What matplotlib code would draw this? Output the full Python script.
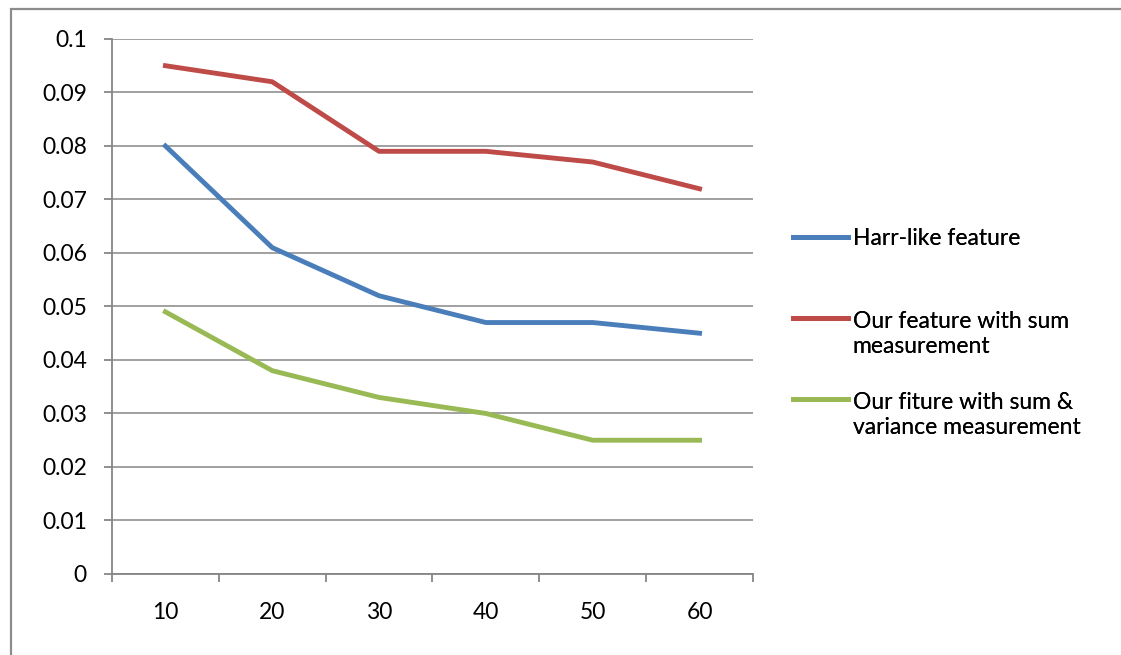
import numpy as np
import matplotlib.pyplot as plt
from matplotlib.patches import Rectangle
from matplotlib.legend_handler import HandlerLine2D

plt.rcParams['font.family'] = ['Lato', 'DejaVu Sans']

categories = ['10', '20', '30', '40', '50', '60']
harr = [0.080, 0.061, 0.052, 0.047, 0.047, 0.045]
sum_feat = [0.095, 0.092, 0.079, 0.079, 0.077, 0.072]
sum_var = [0.049, 0.038, 0.033, 0.030, 0.025, 0.025]
labels = ['Harr-like feature',
          'Our feature with sum\nmeasurement',
          'Our fiture with sum &\nvariance measurement']
colors = ['#4A7EBB', '#BE4B48', '#98B954']
yticks = np.arange(0, 0.11, 0.01)
ytick_labels = ['0', '0.01', '0.02', '0.03', '0.04', '0.05',
                '0.06', '0.07', '0.08', '0.09', '0.1']

grid_col = '#868686'
fs = 16.5


class FirstLineHandler(HandlerLine2D):
    # puts the legend line next to the first text line, like Excel does
    def create_artists(self, legend, orig_handle, xdescent, ydescent,
                       width, height, fontsize, trans):
        return super().create_artists(legend, orig_handle, xdescent,
                                      ydescent - 1.4 * fontsize, width, height,
                                      fontsize, trans)


fig = plt.figure(figsize=(11.21, 6.55), dpi=100)
ax = fig.add_axes([0.0999, 0.1237, 0.5718, 0.8168])

x = np.arange(len(categories))
lines = []
for vals, col, lab in zip([harr, sum_feat, sum_var], colors, labels):
    ln, = ax.plot(x, vals, color=col, lw=3.5, label=lab, solid_joinstyle='round')
    lines.append(ln)

ax.set_xlim(-0.5, len(categories) - 0.5)
ax.set_ylim(0, 0.1)
ax.set_yticks(yticks)
ax.set_yticklabels(ytick_labels)
ax.set_xticks(x)
ax.set_xticklabels(categories)
ax.set_xticks(np.arange(-0.5, len(categories), 1), minor=True)

ax.yaxis.grid(True, color=grid_col, lw=1.1)
ax.set_axisbelow(True)
for s in ['top', 'right']:
    ax.spines[s].set_visible(False)
for s in ['left', 'bottom']:
    ax.spines[s].set_color(grid_col)
    ax.spines[s].set_linewidth(1.3)

ax.tick_params(axis='y', length=6, width=1.3, color=grid_col, pad=12, labelsize=fs)
ax.tick_params(axis='x', which='major', length=0, pad=20, labelsize=fs)
ax.tick_params(axis='x', which='minor', length=6, width=1.3, color=grid_col)

# one legend per entry so the uneven spacing of the reference is kept
legend_y = [0.6366, 0.4901, 0.3664]
for ln, ly in zip(lines, legend_y):
    hmap = {}
    if '\n' in ln.get_label():
        hmap = {ln: FirstLineHandler()}
    leg = fig.legend(handles=[ln], loc='center left', bbox_to_anchor=(0.7074, ly),
                     frameon=False, borderpad=0, borderaxespad=0, handlelength=2.4,
                     handletextpad=0.2, fontsize=fs, handler_map=hmap)
    fig.add_artist(leg)

fig.add_artist(Rectangle((0.0098, -0.05), 1.1, 0.986 + 0.05, transform=fig.transFigure,
                         fill=False, edgecolor='#8c8c8c', lw=1.6))

fig.savefig('out.png', dpi=100)
